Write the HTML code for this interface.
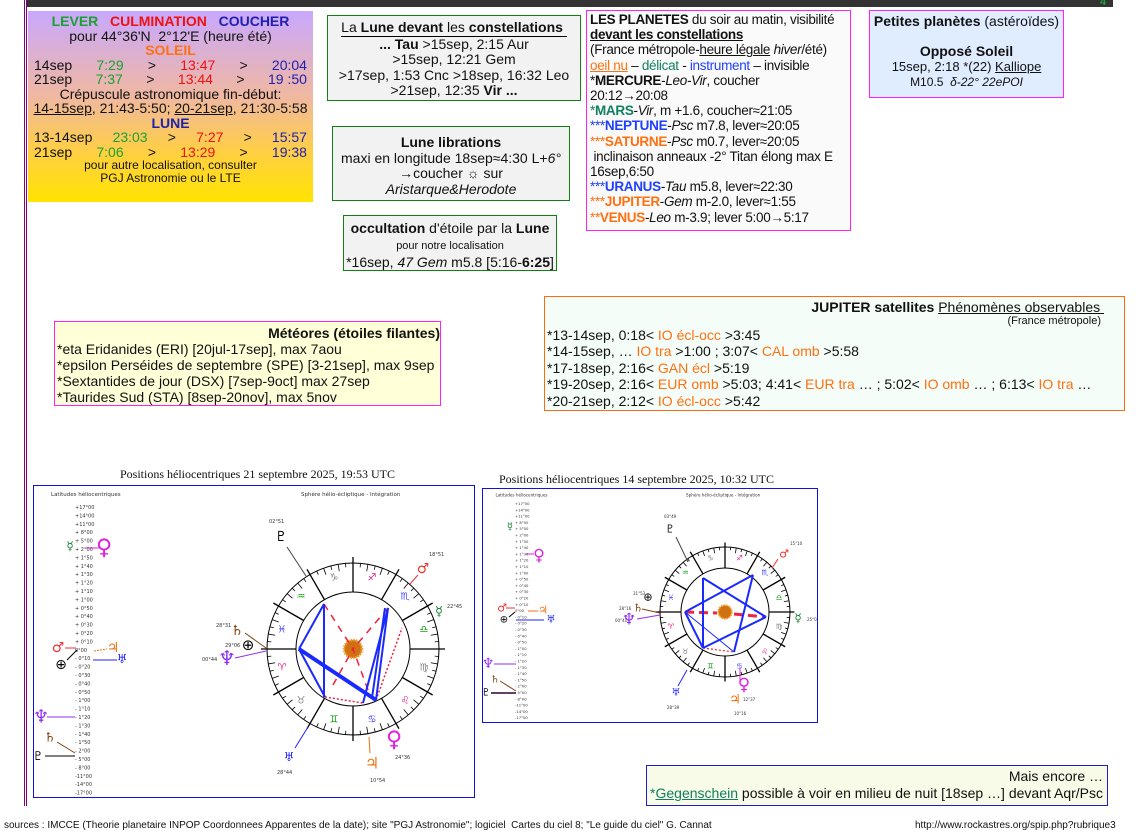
<!DOCTYPE html>
<html><head><meta charset="utf-8">
<style>
*{margin:0;padding:0;box-sizing:border-box}
body{width:1139px;height:836px;background:#fff;position:relative;overflow:hidden;font-family:"Liberation Sans",sans-serif;font-size:14px;color:#111}
.b{position:absolute}
.c{text-align:center}
.g{color:#1aa030}.r{color:#f01010}.bl{color:#2020b0}.o{color:#ff7010}.t{color:#108060}.nb{color:#2040ff}
u{text-decoration:underline}
.row{display:flex;justify-content:space-between;padding:0 6px}
svg text{font-family:"DejaVu Sans",sans-serif}
</style></head><body>
<div class="b" style="left:26px;top:0;width:1087px;height:7px;background:#333"></div>
<div class="b" style="left:1100px;top:-4px;color:#1aa030;font-weight:bold;font-size:11px">4</div>
<div class="b" style="left:24px;top:0;width:1px;height:806px;background:#800080"></div>
<div class="b" style="left:26px;top:0;width:1px;height:806px;background:#800080"></div>

<div class="b c" style="left:28px;top:11px;width:285px;height:191px;background:linear-gradient(#c8a8ff,#f0b8a0 45%,#ffd040 75%,#ffe400);line-height:14.5px;padding-top:3px">
<div style="font-weight:bold"><span class="g">LEVER</span> &nbsp; <span class="r">CULMINATION</span> &nbsp; <span class="bl">COUCHER</span></div>
<div>pour 44°36'N &nbsp;2°12'E (heure été)</div>
<div class="o" style="font-weight:bold">SOLEIL</div>
<div class="row"><span>14sep</span><span class="g">7:29</span><span>&gt;</span><span class="r">13:47</span><span>&gt;</span><span class="bl">20:04</span></div>
<div class="row"><span>21sep</span><span class="g">7:37</span><span>&gt;</span><span class="r">13:44</span><span>&gt;</span><span class="bl">19 :50</span></div>
<div>Crépuscule astronomique fin-début:</div>
<div><u>14-15sep</u>, 21:43-5:50; <u>20-21sep</u>, 21:30-5:58</div>
<div class="bl" style="font-weight:bold">LUNE</div>
<div class="row"><span>13-14sep</span><span class="g">23:03</span><span>&gt;</span><span class="r">7:27</span><span>&gt;</span><span class="bl">15:57</span></div>
<div class="row"><span>21sep</span><span class="g">7:06</span><span>&gt;</span><span class="r">13:29</span><span>&gt;</span><span class="bl">19:38</span></div>
<div style="font-size:12px;line-height:13px">pour autre localisation, consulter<br>PGJ Astronomie ou le LTE</div>
</div>

<div class="b c" style="left:327px;top:15px;width:254px;height:86px;border:1px solid #108010;background:#f2f2f2;line-height:15.5px;padding-top:4px">
<div style="display:inline-block;border-bottom:1px solid #000">La <b>Lune devant</b> les <b>constellations</b>&nbsp;</div>
<div><b>... Tau</b> &gt;15sep, 2:15 Aur</div><div>&gt;15sep, 12:21 Gem</div><div>&gt;17sep, 1:53 Cnc &gt;18sep, 16:32 Leo</div><div>&gt;21sep, 12:35 <b>Vir ...</b></div>
</div>

<div class="b c" style="left:332px;top:126px;width:238px;height:75px;border:1px solid #108010;background:#f2f2f2;line-height:15.5px;padding-top:8px">
<b>Lune librations</b><br>maxi en longitude 18sep≈4:30 L+<i>6°</i><br>→coucher ☼ sur<br><i>Aristarque&amp;Herodote</i></div>

<div class="b c" style="left:343px;top:215px;width:214px;height:56px;border:1px solid #108010;background:#f2f2f2;line-height:16px;padding-top:4px">
<b>occultation</b> d'étoile par la <b>Lune</b><br><span style="font-size:11px">pour notre localisation</span><br>*16sep, <i>47 Gem</i> m5.8 [5:16-<b>6:25</b>]</div>

<div class="b" style="left:586px;top:10px;width:265px;height:221px;border:1px solid #ff20ff;background:#fafafa;line-height:15.2px;padding:1px 0 0 3px;font-size:13.5px;letter-spacing:-0.3px;white-space:nowrap">
<b>LES PLANETES</b> du soir au matin, visibilité<br><b><u>devant les constellations</u></b><br>(France métropole-<u>heure légale</u> <i>hiver</i>/été)<br>
<u class="o" style="color:#ff7010">oeil nu</u> – <span class="t">délicat</span> - <span class="nb">instrument</span> – invisible<br>
*<b>MERCURE</b>-<i>Leo-Vir</i>, coucher<br>20:12→20:08<br>
<span class="t">*<b>MARS</b></span>-<i>Vir</i>, m +1.6, coucher≈21:05<br>
<span class="nb">***<b>NEPTUNE</b></span>-<i>Psc</i> m7.8, lever≈20:05<br>
<span class="o">***<b>SATURNE</b></span>-<i>Psc</i> m0.7, lever≈20:05<br>
&nbsp;inclinaison anneaux -2° Titan élong max E<br>16sep,6:50<br>
<span class="nb">***<b>URANUS</b></span>-<i>Tau</i> m5.8, lever≈22:30<br>
<span class="o">***<b>JUPITER</b></span>-<i>Gem</i> m-2.0, lever≈1:55<br>
<span class="o">**<b>VENUS</b></span>-<i>Leo</i> m-3.9; lever 5:00→5:17</div>

<div class="b c" style="left:869px;top:10px;width:195px;height:88px;border:1px solid #ff20ff;background:#e0ecff;line-height:15px;padding-top:3px">
<b>Petites planètes</b> (astéroïdes)<br><br><b>Opposé Soleil</b><br><span style="font-size:13px">15sep, 2:18 *(22) <u>Kalliope</u></span><br><span style="font-size:12px">M10.5 &nbsp;<i>δ-22° 22ePOI</i></span></div>

<div class="b" style="left:54px;top:321px;width:387px;height:85px;border:1px solid #ff20ff;background:#ffffd8;line-height:16px;padding:3px 0 0 2px">
<div style="text-align:right;font-weight:bold">Météores (étoiles filantes)</div>
*eta Eridanides (ERI) [20jul-17sep], max 7aou<br>*epsilon Perséides de septembre (SPE) [3-21sep], max 9sep<br>*Sextantides de jour (DSX) [7sep-9oct] max 27sep<br>*Taurides Sud (STA) [8sep-20nov], max 5nov</div>

<div class="b" style="left:544px;top:296px;width:581px;height:115px;border:1px solid #ff6a10;background:#f4fdf8;line-height:16.5px;padding:2px 0 0 2px">
<div style="text-align:right;padding-right:20px"><b>JUPITER satellites</b> <u>Phénomènes observables&nbsp;</u></div>
<div style="text-align:right;padding-right:23px;font-size:11px;line-height:11px">(France métropole)</div>
*13-14sep, 0:18&lt; <span class="o">IO écl-occ</span> &gt;3:45<br>
*14-15sep, … <span class="o">IO tra</span> &gt;1:00 ; 3:07&lt; <span class="o">CAL omb</span> &gt;5:58<br>
*17-18sep, 2:16&lt; <span class="o">GAN écl</span> &gt;5:19<br>
*19-20sep, 2:16&lt; <span class="o">EUR omb</span> &gt;5:03; 4:41&lt; <span class="o">EUR tra</span> … ; 5:02&lt; <span class="o">IO omb</span> … ; 6:13&lt; <span class="o">IO tra</span> …<br>
*20-21sep, 2:12&lt; <span class="o">IO écl-occ</span> &gt;5:42</div>

<div class="b" style="left:120px;top:467px;font-family:'Liberation Serif',serif;font-size:12px">Positions héliocentriques 21 septembre 2025, 19:53 UTC</div>
<div class="b" style="left:499px;top:472px;font-family:'Liberation Serif',serif;font-size:12px">Positions héliocentriques 14 septembre 2025, 10:32 UTC</div>

<svg class="b" style="left:33px;top:485px" width="442" height="313" id="s1"></svg>
<svg class="b" style="left:482px;top:488px" width="336" height="235" id="s2"></svg>

<div class="b" style="left:646px;top:765px;width:462px;height:41px;border:1px solid #2020c0;background:#f8fbe8;text-align:right;line-height:17px;padding:2px 4px 0 0">Mais encore …<br><span class="t">*<u>Gegenschein</u></span> possible à voir en milieu de nuit [18sep …] devant Aqr/Psc</div>

<div class="b" style="left:4px;top:820px;font-size:10px">sources : IMCCE (Theorie planetaire INPOP Coordonnees Apparentes de la date); site "PGJ Astronomie"; logiciel &nbsp;Cartes du ciel 8; "Le guide du ciel" G. Cannat</div>
<div class="b" style="left:915px;top:820px;font-size:10px">http://www.rockastres.org/spip.php?rubrique3</div>

<script>
var labs=['+17°00','+14°00','+11°00','+ 8°00','+ 5°00','+ 2°00','+ 1°50','+ 1°40','+ 1°30','+ 1°20','+ 1°10','+ 1°00','+ 0°50','+ 0°40','+ 0°30','+ 0°20','+ 0°10','  0°00','- 0°10','- 0°20','- 0°30','- 0°40','- 0°50','- 1°00','- 1°10','- 1°20','- 1°30','- 1°40','- 1°50','- 2°00','- 5°00','- 8°00','-11°00','-14°00','-17°00'];
function G(x,y,ch,sz,col){return '<text x="'+x+'" y="'+y+'" font-size="'+sz+'" fill="'+(col||'#000')+'" text-anchor="middle" dominant-baseline="central">'+ch+'</text>';}
function T(x,y,s,sz){return '<text x="'+x+'" y="'+y+'" font-size="'+sz+'" fill="#333">'+s+'</text>';}
function L(a,b,c,d,col,w,da){return '<line x1="'+a+'" y1="'+b+'" x2="'+c+'" y2="'+d+'" stroke="'+col+'" stroke-width="'+(w||1)+'"'+(da?' stroke-dasharray="'+da+'"':'')+'/>';}
function chart(id,W,H,cx,cy,R,ri,sc,lx,ly,ls,extra){
 var s='<rect x="0.5" y="0.5" width="'+(W-1)+'" height="'+(H-1)+'" fill="#fff" stroke="#1010e0"/>';
 s+=T(18*sc,11*sc,'Latitudes héliocentriques',5.5*sc);
 s+=T(cx-52*sc,11*sc,'Sphère hélio-écliptique - Intégration',5.5*sc);
 for(var i=0;i<labs.length;i++) s+=T(lx,ly+i*ls,labs[i],5*sc);
 s+='<circle cx="'+cx+'" cy="'+cy+'" r="'+R+'" fill="none" stroke="#000"/><circle cx="'+cx+'" cy="'+cy+'" r="'+ri+'" fill="none" stroke="#000"/>';
 for(var a=0;a<360;a+=5){var t=a*Math.PI/180,c=Math.cos(t),n=Math.sin(t);
  if(a%30==0) s+=L(cx+ri*c,cy+ri*n,cx+(R+6*sc)*c,cy+(R+6*sc)*n,'#000',1.3);
  else {var l=(a%10==0?7:4)*sc; s+=L(cx+R*c,cy+R*n,cx+(R-l)*c,cy+(R-l)*n,'#000',0.8);}}
 var sy=['♈','♉','♊','♋','♌','♍','♎','♏','♐','♑','♒','♓'],cl=['#e02080','#808080','#10a010','#4040ff','#e02080','#808080','#10a010','#4040ff','#e02080','#808080','#10a010','#4040ff'];
 var rr=(R+ri)/2+2*sc;
 for(var k=0;k<12;k++){var ang=(195+30*k)*Math.PI/180; s+=G(cx+rr*Math.cos(ang),cy-rr*Math.sin(ang),sy[k],10*sc,cl[k]);}
 s+='<circle cx="'+cx+'" cy="'+cy+'" r="'+(9*sc)+'" fill="#d07010" stroke="#f0a030" stroke-width="'+(2.5*sc)+'" stroke-dasharray="1.5 1"/>';
 document.getElementById(id).innerHTML=s+extra;
}
var B='#1a2aff',RD='#f02040',M='#e020e0',O='#f07010',NB='#2020ff',P='#9030f0',BR='#804010';
var e1=
 L(291,119,320,164,RD,1.5,'7 6')+L(355,123,320,164,RD,1.5,'7 6')+L(300,200,320,164,RD,1.5,'7 6')+L(335,205,320,164,RD,1.5,'7 6')+
 L(292,212,330,218,RD,1.5,'2 2')+L(343,215,369,143,RD,1.5,'2 2')+
 L(291,119,291,212,B,2)+L(291,119,266,164,B,2)+L(266,164,292,212,B,2)+L(266,164,343,215,B,4)+L(343,215,355,123,B,2)+L(339,213,352,123,B,2)+L(330,218,355,123,B,2)+
 G(37,61,'☿',12,'#108030')+G(71,63,'♀',22,M)+L(53,63,66,63,M)+
 G(25,163,'♂',14,'#f03030')+L(32,163,43,163,'#f03030')+G(28,180,'⊕',14)+L(34,175,44,165,'#000')+G(80,163,'♃',14,O)+L(61,166,74,164,O,1,'2 1')+G(89,174,'♅',12,NB)+L(60,175,84,175,NB)+
 G(8,232,'♆',18,P)+L(14,232,42,232,P)+G(17,253,'♄',13,BR)+L(24,257,42,268,BR)+G(5,271,'♇',12)+L(12,271,42,271,'#000')+
 G(248,52,'♇',14)+T(236,38,'02°51',5)+L(254,62,273,91,'#444')+
 G(390,84,'♂',14,'#f03030')+T(396,71,'18°51',5)+L(385,90,377,99,'#f03030')+
 G(406,127,'☿',13,'#108030')+T(414,123,'22°45',5)+
 G(204,146,'♄',14,BR)+T(183,142,'28°31',5)+L(212,148,233,163,BR)+
 G(215,160,'⊕',15)+T(192,162,'29°06',5)+
 G(194,173,'♆',20,P)+T(169,176,'00°44',5)+L(202,173,233,166,P)+
 G(256,272,'♅',12,NB)+T(244,289,'28°44',5)+L(262,263,275,242,NB)+
 G(339,278,'♃',16,O)+T(337,297,'10°54',5)+L(337,268,336,252,O)+
 G(361,255,'♀',22,M)+T(362,274,'24°36',5);
chart('s1',442,313,320,164,86,57,1,42,24,8.4,e1);
var e2=
 L(203,124,235,125,RD,3,'9 5')+L(252,126,284,129,RD,3,'9 5')+L(221,160,252,164,RD,1.2,'2 2')+
 L(221,90,221,160,B,2)+L(221,90,284,129,B,2)+L(284,129,221,160,B,2)+L(221,160,203,124,B,2)+L(203,124,271,87,B,2)+L(271,87,252,164,B,2)+L(252,164,203,124,B,1)+
 G(28,39,'☿',10,'#108030')+G(57,67,'♀',16,M)+L(44,66,52,66,M)+
 G(20,120,'♂',11,'#f03030')+L(24,120,33,120,'#f03030')+G(61,122,'♃',11,O)+L(46,123,56,123,O)+G(22,132,'⊕',10)+L(27,129,33,124,'#000')+G(69,132,'♅',10,NB)+L(34,132,62,132,NB)+
 G(6,176,'♆',14,P)+L(12,176,34,176,P)+G(13,192,'♄',10,BR)+L(18,193,34,203,BR)+G(4,205,'♇',10)+L(9,205,34,205,'#300030',1.5)+
 G(188,41,'♇',11)+T(182,30,'03°49',4)+L(194,49,206,74,'#444')+
 G(302,66,'♂',11,'#f03030')+T(308,57,'15°10',4)+L(296,71,290,80,'#f03030')+
 G(316,130,'☿',12,'#108030')+T(325,133,'25°05',4)+
 G(166,109,'⊕',11)+T(151,107,'31°53',4)+
 G(156,120,'♄',11,BR)+L(160,121,178,125,BR)+T(137,122,'28°16',4)+
 G(147,131,'♆',16,P)+T(133,134,'00°41',4)+L(155,131,178,127,P)+
 G(194,205,'♅',10,NB)+L(196,198,205,182,NB)+T(185,221,'28°39',4)+
 G(262,197,'♀',17,M)+L(258,196,258,180,M)+
 G(253,212,'♃',13,O)+T(261,213,'12°37',4)+T(252,227,'10°16',4);
chart('s2',336,235,243,124,65,44,0.75,33,17,6.3,e2);
</script>
</body></html>
